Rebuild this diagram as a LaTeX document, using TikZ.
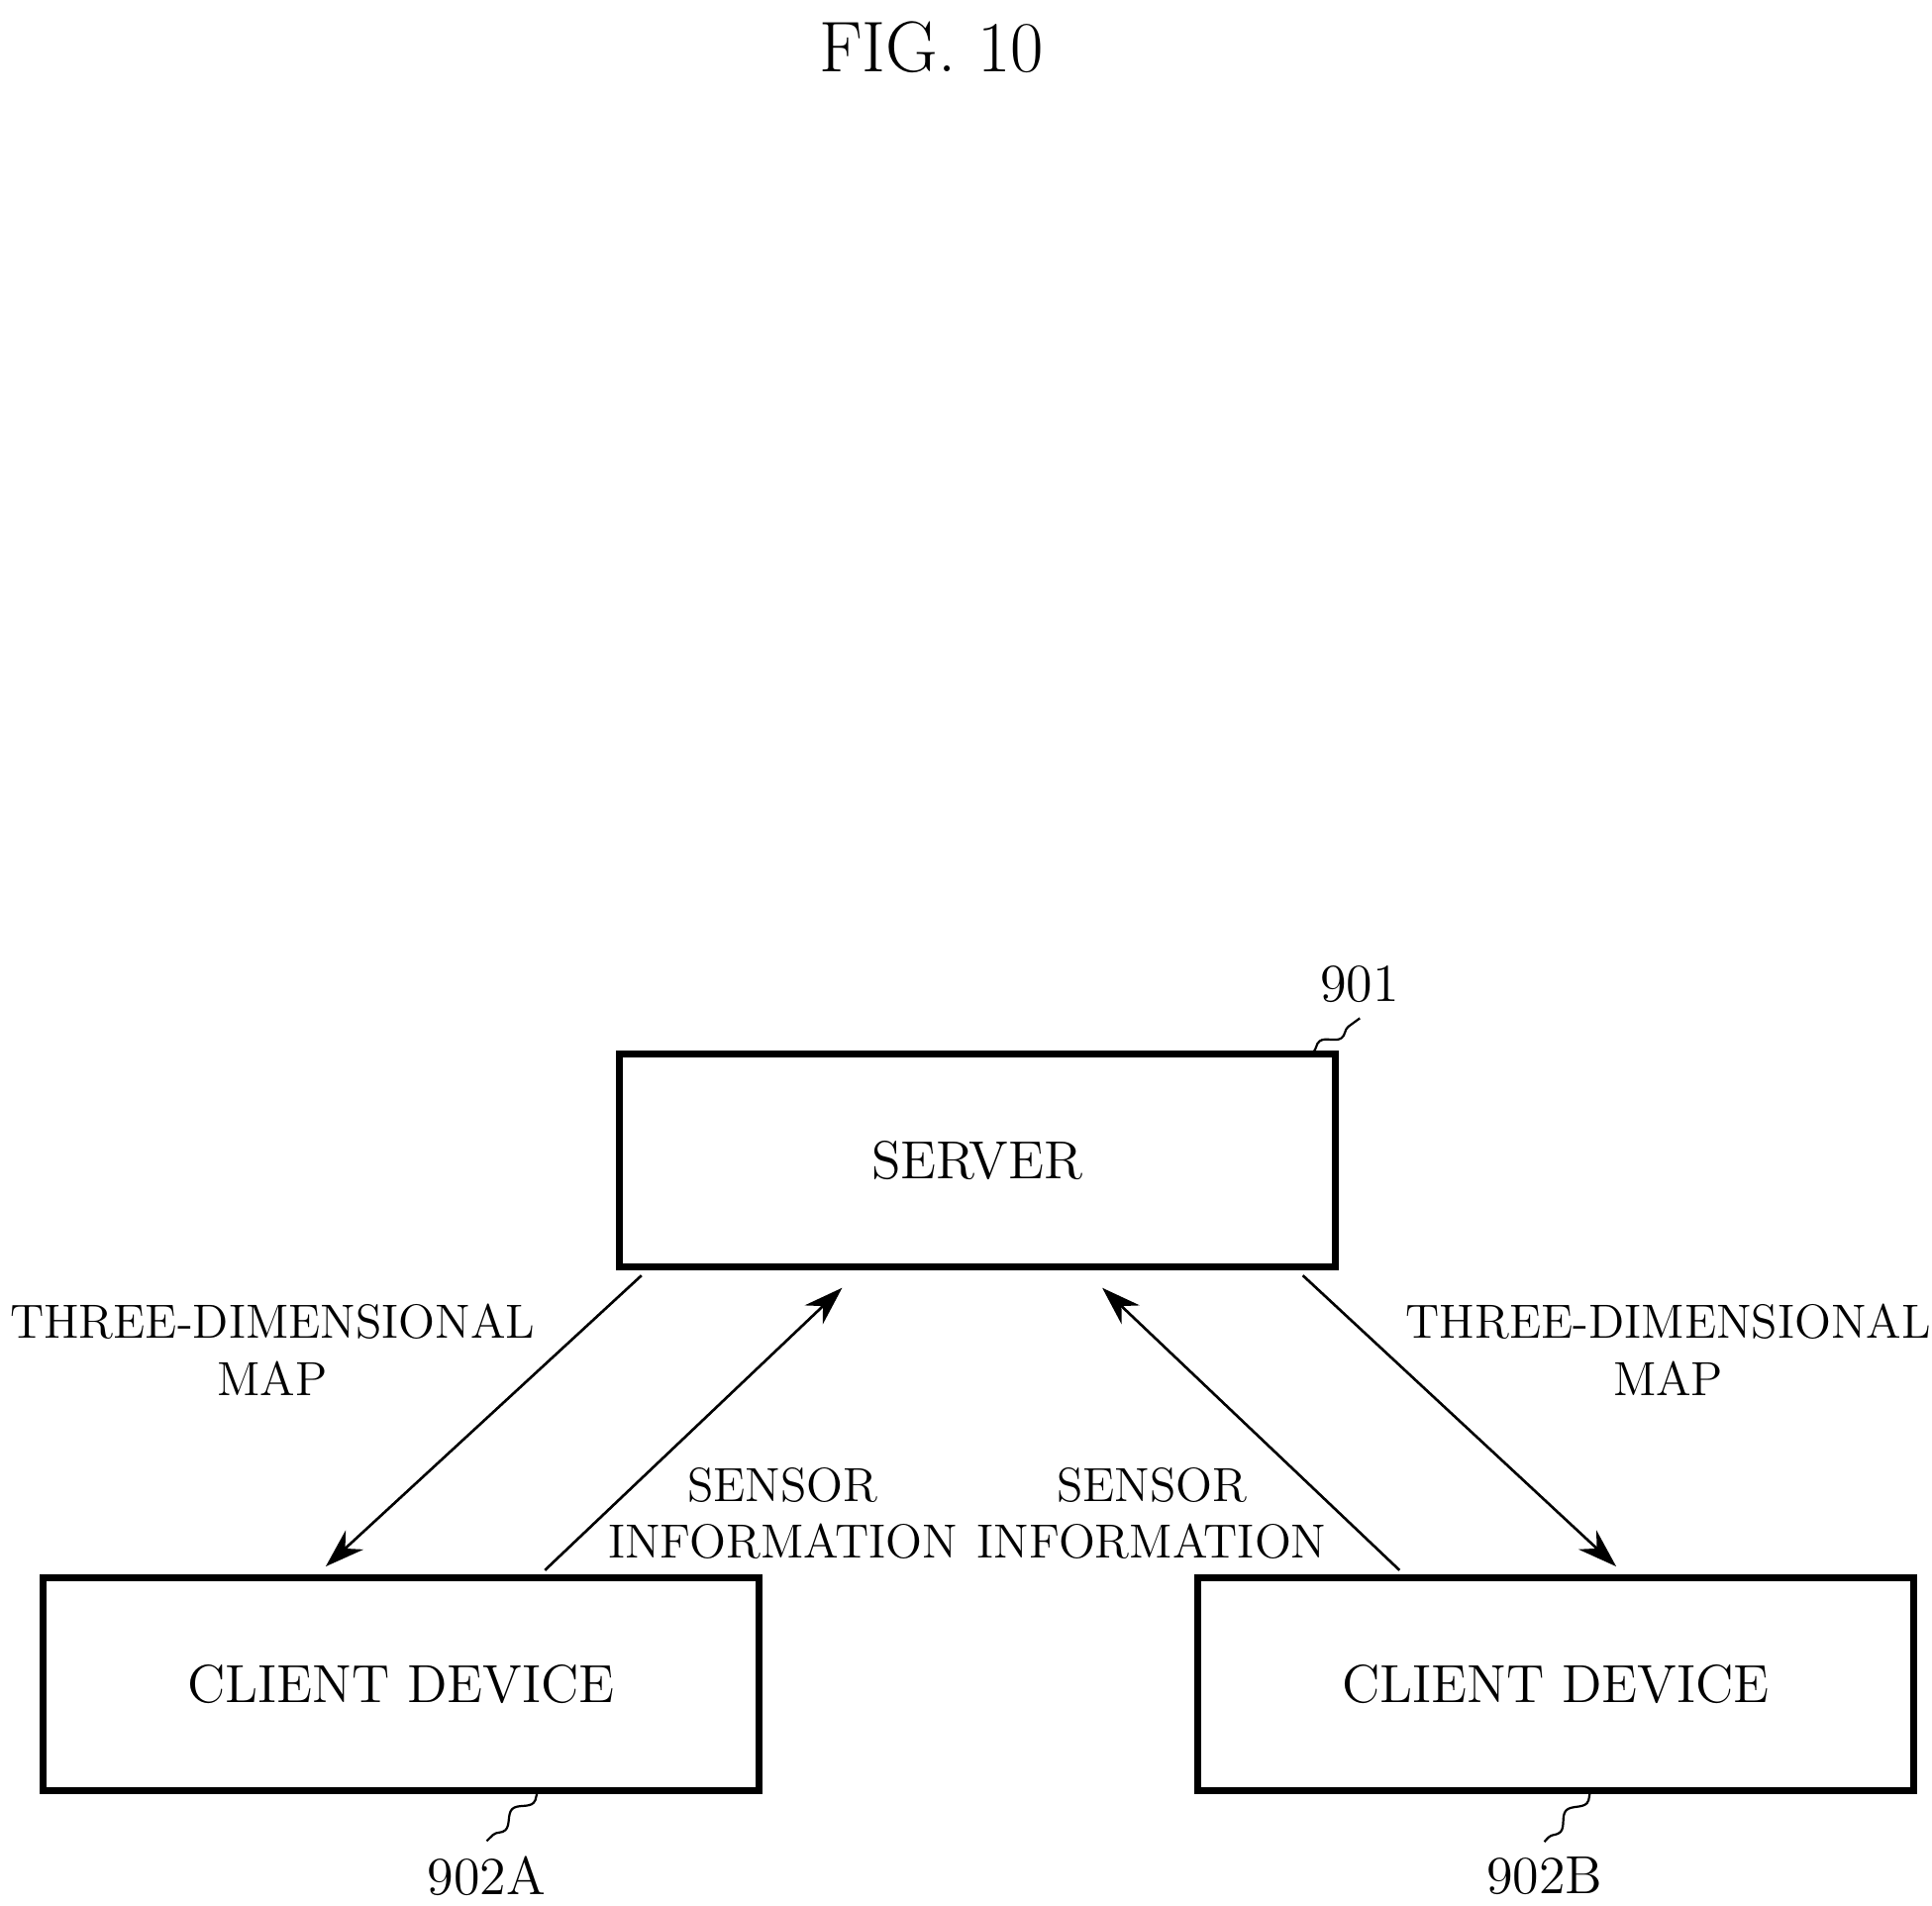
\documentclass[tikz,border=0pt]{standalone}
\usepackage{tikz}
\usetikzlibrary{arrows.meta, positioning, decorations.pathmorphing}

\begin{document}
\begin{tikzpicture}[x=0.01cm, y=-0.01cm,
    box/.style={rectangle, draw, line width=1.6pt, minimum width=5.78cm, minimum height=1.72cm, font=\fontsize{12.3}{15}\selectfont},
    lbl/.style={align=center, font=\fontsize{11}{13}\selectfont},
    arrow/.style={line width=0.6pt, -{Stealth[length=9pt, width=6pt]}},
    squig/.style={line width=0.5pt, decorate, decoration={snake, amplitude=1.2pt, segment length=9pt}}
]
\useasboundingbox (0,0) rectangle (1560,1539);

% ---------- title ----------
\node (title) at (752,38) {\fontsize{16.5}{18}\selectfont FIG. 10};

% ---------- boxes ----------
\node (server) [box] at (789,937) {SERVER};
\node (clientA) [box] at (324,1360) {CLIENT DEVICE};
\node (clientB) [box] at (1256,1360) {CLIENT DEVICE};

% ---------- reference numerals ----------
\node (n901) at (1098,795) {\fontsize{12.3}{15}\selectfont 901};
\node (n902A) at (393,1515) {\fontsize{12.3}{15}\selectfont 902A};
\node (n902B) at (1247,1515) {\fontsize{12.3}{15}\selectfont 902B};
\draw [squig] (1060,850) -- (n901.south);
\draw [squig] (435,1446) -- (n902A.north);
\draw [squig] (1285,1446) -- (n902B.north);

% ---------- arrow end points ----------
\coordinate (sA) at (518,1030);
\coordinate (sB) at (680,1040);
\coordinate (sC) at (890,1040);
\coordinate (sD) at (1052,1030);
\coordinate (cA1) at (263,1265);
\coordinate (cA2) at (440,1268);
\coordinate (cB1) at (1130,1268);
\coordinate (cB2) at (1305,1265);

% ---------- arrows ----------
\draw [arrow] (sA) -- (cA1);
\draw [arrow] (cA2) -- (sB);
\draw [arrow] (cB1) -- (sC);
\draw [arrow] (sD) -- (cB2);

% ---------- labels ----------
\node (mapA) [lbl] at (220,1090) {THREE-DIMENSIONAL\\MAP};
\node (mapB) [lbl] at (1347,1090) {THREE-DIMENSIONAL\\MAP};
\node (sensA) [lbl] at (632,1222) {SENSOR\\INFORMATION};
\node (sensB) [lbl] at (930,1222) {SENSOR\\INFORMATION};

\end{tikzpicture}
\end{document}
